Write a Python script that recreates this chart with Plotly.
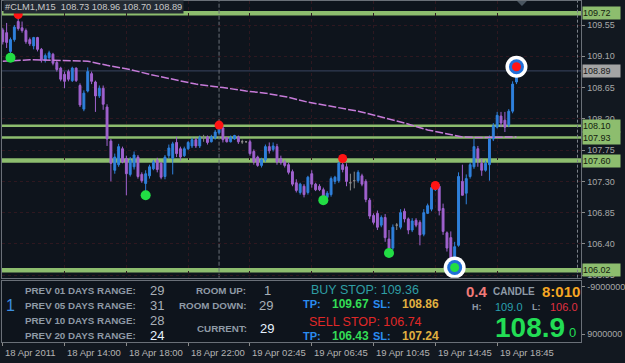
import numpy as np
import plotly.graph_objects as go

W, H = 625, 363

# ---------------- data ----------------
open_p = [109.48,109.44,109.17,109.34,109.60,109.51,109.47,109.34,109.25,109.37,
          109.20,109.04,109.08,109.13,109.01,108.93,108.84,108.88,108.75,108.93,
          108.68,108.34,108.60,108.85,108.73,108.53,108.64,108.37,107.88,107.46,
          107.54,107.77,107.63,107.40,107.51,107.65,107.40,107.27,107.38,107.48,
          107.60,107.56,107.37,107.67,107.63,107.86,107.77,107.67,107.77,107.81,
          107.90,107.81,107.93,107.94,107.87,107.93,108.00,108.07,107.93,107.87,
          107.91,107.94,107.87,107.87,107.87,107.73,107.65,107.53,107.61,107.80,
          107.76,107.80,107.63,107.58,107.54,107.44,107.28,107.14,107.23,107.14,
          107.41,107.26,107.23,107.18,107.07,107.11,107.30,107.31,107.54,107.51,
          107.28,107.31,107.31,107.38,107.30,107.03,106.81,106.84,106.67,106.78,
          106.47,106.34,106.67,106.64,106.87,106.76,106.60,106.74,106.71,106.54,
          106.84,106.90,107.18,107.23,106.91,106.56,106.49,106.17,106.38,107.30,
          107.13,107.37,107.51,107.77,107.56,107.46,107.54,107.91,108.08,108.24,
          108.18,108.11,108.31,108.73]
high_p = [109.51,109.58,109.37,109.55,109.67,109.60,109.50,109.37,109.38,109.38,
          109.22,109.14,109.18,109.15,109.04,108.95,108.88,108.91,108.95,108.94,
          108.71,108.61,108.94,108.88,108.75,108.68,108.68,108.41,107.91,107.70,
          107.84,107.80,107.67,107.65,107.73,107.68,107.43,107.46,107.54,107.61,
          107.64,107.58,107.68,107.83,107.87,107.94,107.80,107.80,107.88,107.93,
          107.93,107.96,107.97,107.96,107.97,108.04,108.10,108.08,107.94,107.96,
          107.97,107.96,107.90,107.88,107.90,107.76,107.67,107.64,107.83,107.86,
          107.86,107.84,107.67,107.61,107.57,107.47,107.33,107.28,107.26,107.38,
          107.46,107.28,107.26,107.21,107.16,107.37,107.38,107.58,107.61,107.56,
          107.41,107.44,107.46,107.41,107.33,107.06,106.84,106.88,106.81,106.83,
          106.60,106.68,106.70,106.90,106.91,106.78,106.77,106.77,106.74,106.90,
          106.98,107.26,107.27,107.26,106.98,106.58,106.58,106.43,107.43,107.54,
          107.40,107.57,107.91,107.81,107.63,107.60,107.96,108.14,108.30,108.30,
          108.30,108.34,108.74,108.96]
low_p = [109.27,109.22,109.13,109.31,109.47,109.44,109.28,109.25,109.20,109.17,
         109.01,109.01,109.05,108.97,108.88,108.74,108.64,108.74,108.73,108.73,
         108.37,108.31,108.58,108.70,108.30,108.50,108.33,107.81,107.30,107.41,
         107.51,107.56,107.10,107.37,107.47,107.34,107.28,107.16,107.34,107.46,
         107.43,107.33,107.33,107.63,107.40,107.65,107.60,107.65,107.75,107.78,
         107.78,107.78,107.87,107.83,107.86,107.90,107.97,107.86,107.86,107.86,
         107.90,107.84,107.84,107.86,107.67,107.54,107.51,107.50,107.58,107.70,
         107.73,107.54,107.54,107.50,107.40,107.23,107.14,107.11,107.07,107.11,
         107.21,107.16,107.16,107.06,107.04,107.08,107.26,107.28,107.43,107.23,
         107.17,107.20,107.28,107.23,107.00,106.76,106.68,106.60,106.64,106.43,
         106.29,106.31,106.60,106.61,106.71,106.54,106.57,106.64,106.38,106.51,
         106.83,106.87,107.16,106.81,106.53,106.29,106.09,106.04,106.36,107.10,
         106.97,107.34,107.48,107.51,107.38,107.44,107.31,107.88,108.06,108.08,
         108.01,108.08,108.28,108.70]
close_p = [109.31,109.30,109.34,109.52,109.50,109.47,109.31,109.28,109.37,109.20,
           109.04,109.11,109.15,109.00,108.91,108.77,108.74,108.77,108.93,108.75,
           108.40,108.57,108.88,108.74,108.53,108.64,108.41,107.91,107.56,107.65,
           107.80,107.58,107.41,107.60,107.68,107.37,107.31,107.41,107.51,107.58,
           107.47,107.36,107.65,107.78,107.84,107.70,107.65,107.77,107.86,107.90,
           107.81,107.93,107.93,107.86,107.94,108.01,108.08,107.90,107.87,107.93,
           107.96,107.87,107.87,107.87,107.70,107.58,107.53,107.61,107.80,107.74,
           107.81,107.58,107.57,107.53,107.43,107.26,107.17,107.26,107.11,107.36,
           107.26,107.18,107.18,107.08,107.13,107.34,107.36,107.56,107.47,107.30,
           107.28,107.31,107.43,107.26,107.04,106.80,106.71,106.64,106.78,106.49,
           106.34,106.64,106.67,106.85,106.76,106.60,106.73,106.67,106.53,106.85,
           106.95,107.21,107.24,106.88,106.58,106.34,106.17,106.36,107.37,107.10,
           107.34,107.54,107.80,107.63,107.46,107.56,107.91,108.10,108.25,108.14,
           108.08,108.31,108.70,108.89]
bars = list(range(len(open_p)))

ma_bars = [0, 7, 15, 22, 27, 33, 38, 44, 50, 57, 63, 68, 74, 79, 86, 92, 97, 104, 110, 115, 119, 123, 127, 133]
ma_vals = [109.03, 109.05, 109.04, 109.03, 108.97, 108.91, 108.84, 108.77, 108.70, 108.65, 108.60, 108.57,
           108.51, 108.44, 108.37, 108.31, 108.24, 108.14, 108.04, 107.98, 107.94, 107.93, 107.93, 107.94]

frac_hi_bars = [4, 56, 88, 112]
frac_hi_vals = [109.70, 108.11, 107.63, 107.24]
frac_lo_bars = [2, 37, 83, 100]
frac_lo_vals = [109.08, 107.10, 107.03, 106.27]
target_hi = (133, 108.95)
target_lo = (117, 106.06)

levels = [109.72, 108.10, 107.93, 107.60, 106.02]
level_thick = [True, False, False, True, True]
bid = 108.89
day_separator_bar = 56

price_ticks = [109.55, 109.10, 108.65, 108.20, 107.75, 107.30, 106.85, 106.40, 105.95]
time_bars = [0, 16, 32, 48, 64, 80, 96, 112, 128]
time_labels = ["18 Apr 2011", "18 Apr 14:00", "18 Apr 18:00", "18 Apr 22:00", "19 Apr 02:45",
               "19 Apr 06:45", "19 Apr 10:45", "19 Apr 14:45", "19 Apr 18:45"]

header = "#CLM1,M15  108.73 108.96 108.70 108.89"

# ---------------- styles ----------------
BULL = "#2f80dc"
BEAR = "#a062cf"
DOJI = "#8a8a8a"
LEVEL = "#8dbd6e"
FONT = "Liberation Sans, Arial, sans-serif"

o = np.array(open_p); h = np.array(high_p); l = np.array(low_p); c = np.array(close_p)
xb = np.array(bars)

fig = go.Figure()

def candles(mask, color):
    return go.Candlestick(
        x=xb[mask], open=o[mask], high=h[mask], low=l[mask], close=c[mask],
        increasing=dict(line=dict(color=color, width=1), fillcolor=color),
        decreasing=dict(line=dict(color=color, width=1), fillcolor=color),
        whiskerwidth=0, hoverinfo="skip", showlegend=False, xaxis="x", yaxis="y")

# MA line
fig.add_trace(go.Scatter(x=ma_bars, y=ma_vals, mode="lines",
                         line=dict(color="#c77bd9", width=1.5, dash="8px,2px"),
                         hoverinfo="skip", xaxis="x", yaxis="y"))

fig.add_trace(candles(c > o, BULL))
fig.add_trace(candles(c < o, BEAR))
fig.add_trace(candles(c == o, DOJI))

# fractal dots
fig.add_trace(go.Scatter(x=frac_hi_bars, y=frac_hi_vals, mode="markers",
                         marker=dict(color="#ff1414", size=9, opacity=1, line=dict(width=0)),
                         hoverinfo="skip"))
fig.add_trace(go.Scatter(x=frac_lo_bars, y=frac_lo_vals, mode="markers",
                         marker=dict(color="#22dd44", size=10, opacity=1, line=dict(width=0)),
                         hoverinfo="skip"))
# target rings
for (bx, by), core in [(target_hi, "#ff1414"), (target_lo, "#22dd44")]:
    for sz, colr in [(22, "#ffffff"), (15, "#1f6fd8"), (9, core)]:
        fig.add_trace(go.Scatter(x=[bx], y=[by], mode="markers",
                                 marker=dict(color=colr, size=sz, opacity=1, line=dict(width=0)),
                                 hoverinfo="skip"))

# invisible trace for the lower window
fig.add_trace(go.Scatter(x=[0], y=[0.5], mode="markers", marker=dict(opacity=0),
                         xaxis="x2", yaxis="y2", hoverinfo="skip"))

# level lines + bid line
for lv, thick in zip(levels, level_thick):
    fig.add_shape(type="line", xref="x domain", x0=0, x1=1, yref="y", y0=lv, y1=lv,
                  line=dict(color=LEVEL, width=4.5 if thick else 2.5), layer="below")
fig.add_shape(type="line", xref="x domain", x0=0, x1=1, yref="y", y0=bid, y1=bid,
              line=dict(color="#3a4560", width=1), layer="below")

# separators
fig.add_shape(type="line", xref="x", x0=day_separator_bar, x1=day_separator_bar,
              yref="y domain", y0=0, y1=1, line=dict(color="#6a7078", width=1, dash="4px,2px"), layer="below")
fig.add_shape(type="line", xref="x", x0=148.8, x1=148.8,
              yref="y domain", y0=0, y1=1, line=dict(color="#7a8088", width=1, dash="3px,2px"))

# small shift triangle
def P(px, py):
    return f"{px / W:.5f},{1 - py / H:.5f}"
fig.add_shape(type="path", xref="paper", yref="paper",
              path=f"M{P(522, 1)} L{P(532, 1)} L{P(527, 6)} Z",
              fillcolor="#4a5560", line=dict(width=0))

ann = []
# price label boxes
for lv in levels:
    ann.append(dict(xref="paper", x=588 / W, xanchor="left", yref="y", y=lv, yanchor="middle",
                    text=f"{lv:.2f}", showarrow=False, bgcolor=LEVEL, width=37, height=12,
                    align="left", borderpad=0, font=dict(size=9, color="#14210f", family=FONT)))
ann.append(dict(xref="paper", x=588 / W, xanchor="left", yref="y", y=bid, yanchor="middle",
                text=f"{bid:.2f}", showarrow=False, bgcolor="#a4a4a4", width=37, height=12,
                align="left", borderpad=0, font=dict(size=9, color="#1a1a1a", family=FONT)))

# header
ann.append(dict(xref="paper", x=3 / W, xanchor="left", yref="paper", y=1 - 7 / H, yanchor="middle",
                text=header, showarrow=False, bgcolor="#232a33", borderpad=1,
                font=dict(size=9.3, color="#c8c8c8", family=FONT)))

# time labels
for tb, tl in zip(time_bars, time_labels):
    ann.append(dict(xref="x2", x=tb + 0.1, xanchor="left", yref="paper", y=1 - 355 / H, yanchor="middle",
                    text=tl, showarrow=False, font=dict(size=9.5, color="#b4b4b4", family=FONT)))

def t(x, y, text, size, color, bold=False, anchor="left"):
    ann.append(dict(xref="paper", x=x / W, xanchor=anchor, yref="paper", y=1 - y / H, yanchor="middle",
                    text=f"<b>{text}</b>" if bold else text, showarrow=False,
                    font=dict(size=size, color=color, family=FONT)))

LBL = "#8e9aa6"
# column 1
t(4, 308, "1", 16, "#3d8fe0")
for yy, lab, val, col in [(293, "PREV 01 DAYS RANGE:", "29", "#a8b0b8"),
                          (308, "PREV 05 DAYS RANGE:", "31", "#a8b0b8"),
                          (323, "PREV 10 DAYS RANGE:", "28", "#a8b0b8"),
                          (338, "PREV 20 DAYS RANGE:", "24", "#e4f2ff")]:
    t(23, yy, lab, 9.8, LBL, bold=True)
    t(149, yy, val, 13, col)
# column 2
t(250, 293, "ROOM UP:", 9.8, LBL, bold=True, anchor="right")
t(270, 293, "1", 13, "#a8b0b8", anchor="center")
t(250, 308, "ROOM DOWN:", 9.8, LBL, bold=True, anchor="right")
t(269, 308, "29", 13, "#a8b0b8", anchor="center")
t(251, 331, "CURRENT:", 9.8, LBL, bold=True, anchor="right")
t(270, 331, "29", 13, "#e4f2ff", anchor="center")
# column 3
t(312, 292, "BUY STOP: 109.36", 12.5, "#2e9ea4")
t(304, 307, "TP:", 11, "#2a8cf0", bold=True)
t(333, 307, "109.67", 12, "#33dd55", bold=True)
t(375, 307, "SL:", 11, "#2a8cf0", bold=True)
t(404, 307, "108.86", 12, "#e0b040", bold=True)
t(310, 325, "SELL STOP: 106.74", 12.5, "#e02828")
t(304, 339, "TP:", 11, "#2a8cf0", bold=True)
t(333, 339, "106.43", 12, "#33dd55", bold=True)
t(375, 339, "SL:", 11, "#2a8cf0", bold=True)
t(404, 339, "107.24", 12, "#e0b040", bold=True)
# column 4
t(468, 294, "0.4", 15, "#f07a78", bold=True)
t(496, 294, "CANDLE", 10, LBL, bold=True)
t(545, 294, "8:010", 15, "#f5a623", bold=True)
t(475, 310, "H:", 9, LBL, bold=True)
t(498, 310, "109.0", 11, "#2aa0b0")
t(535, 310, "L:", 9, LBL, bold=True)
t(553, 310, "106.0", 11, "#e03040")
t(498, 330, "108.9", 28, "#22dd55", bold=True)
t(572, 335, "0", 13, "#22dd55")

GRID = "#2e1820"
AX = "#6a7078"
fig.update_layout(
    width=W, height=H, margin=dict(l=0, r=0, t=0, b=0),
    paper_bgcolor="#121820", plot_bgcolor="#0e141c",
    boxgap=0.3, showlegend=False, font=dict(family=FONT),
    annotations=ann,
    xaxis=dict(domain=[2 / W, 587 / W], range=[-0.2, 149.8], anchor="y",
               showticklabels=False, rangeslider=dict(visible=False),
               tickvals=time_bars, ticks="", showgrid=True, gridcolor=GRID, griddash="dot",
               showline=True, linecolor=AX, mirror=True, zeroline=False, fixedrange=True),
    yaxis=dict(domain=[1 - 280 / H, 1 - 1 / H], range=[105.914, 109.896], anchor="x", side="right",
               tickvals=price_ticks, ticktext=[f"{v:.2f}" for v in price_ticks],
               ticks="outside", ticklen=3, tickcolor="#8a8a8a",
               tickfont=dict(size=9, color="#a8a8a8", family=FONT),
               showgrid=True, gridcolor=GRID, griddash="dot",
               showline=True, linecolor=AX, mirror=True, zeroline=False),
    xaxis2=dict(domain=[2 / W, 587 / W], range=[-0.2, 149.8], anchor="y2",
                tickvals=time_bars, ticks="outside", ticklen=3, tickcolor="#8a8a8a",
                showticklabels=False, showgrid=False,
                showline=True, linecolor=AX, mirror=True, zeroline=False),
    yaxis2=dict(domain=[1 - 345 / H, 1 - 283 / H], range=[0, 1], anchor="x2", side="right",
                tickvals=[0.9, 0.13], ticktext=["-9000000", "9000000"],
                ticks="outside", ticklen=3, tickcolor="#8a8a8a",
                tickfont=dict(size=9, color="#a8a8a8", family=FONT),
                showgrid=False, showline=True, linecolor=AX, mirror=True, zeroline=False),
)

fig.write_html("out.html")
